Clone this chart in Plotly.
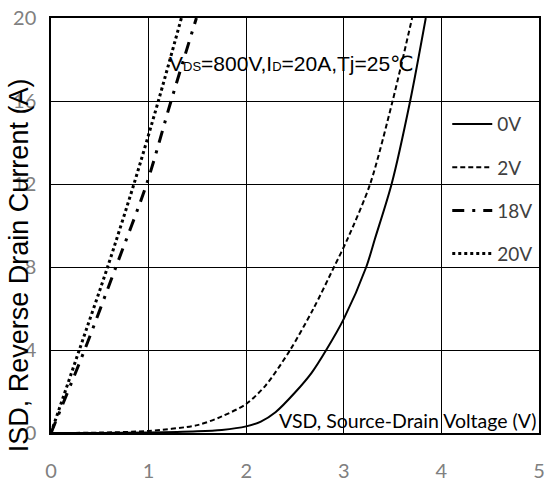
import plotly.graph_objects as go

# ---- data ----
V_0V = [0, 0.5, 1.0, 1.5, 1.75, 2.0, 2.15, 2.3, 2.5, 2.67, 2.82, 3.0, 3.23, 3.32, 3.49, 3.68, 3.84]
I_0V = [0, 0.0, 0.02, 0.08, 0.15, 0.32, 0.55, 1.0, 1.95, 2.9, 4.0, 5.5, 8, 9.37, 12, 16, 20]

V_2V = [0, 0.5, 1.0, 1.5, 1.75, 2.0, 2.2, 2.45, 2.69, 2.90, 3.04, 3.27, 3.50, 3.70]
I_2V = [0, 0.02, 0.1, 0.38, 0.8, 1.4, 2.3, 4.0, 6.0, 8, 9.37, 12, 16, 20]

V_18V = [0, 0.344, 0.665, 0.98, 1.23, 1.49]
I_18V = [0, 4, 8, 12, 16, 20]

V_20V = [0, 0.29, 0.58, 0.85, 1.10, 1.336]
I_20V = [0, 4, 8, 12, 16, 20]

series_names = ["0V", "2V", "18V", "20V"]
x_ticks = [0, 1, 2, 3, 4, 5]
y_ticks = [0, 4, 8, 12, 16, 20]

NARROW = "Lato, sans-serif"
ARIAL = "Liberation Sans, Arial, DejaVu Sans, sans-serif"

fig = go.Figure()
styles = [
    dict(width=2, dash="solid"),
    dict(width=2, dash="5px,3px"),
    dict(width=3, dash="12px,8px,3px,8px"),
    dict(width=3, dash="3px,3px"),
]
datasets = [(V_0V, I_0V), (V_2V, I_2V), (V_18V, I_18V), (V_20V, I_20V)]
for name, (xs, ys), st in zip(series_names, datasets, styles):
    fig.add_trace(go.Scatter(
        x=xs, y=ys, mode="lines", name=name, legendgroup=name,
        line=dict(color="black", shape="spline", smoothing=0.8, **st),
    ))

fig.update_layout(
    width=550, height=487,
    margin=dict(l=51, r=5, t=14, b=48),
    paper_bgcolor="white", plot_bgcolor="white",
    showlegend=True,
    legend=dict(
        x=0.812, y=0.79, xanchor="left", yanchor="top",
        bgcolor="rgba(0,0,0,0)", borderwidth=0, itemwidth=40,
        font=dict(family=NARROW, size=19, color="#404040"),
        tracegroupgap=15.5,
    ),
    xaxis=dict(
        range=[0, 5], tickvals=x_ticks, showgrid=True, gridcolor="black", gridwidth=1,
        showline=True, linecolor="black", linewidth=1.5, mirror=True,
        ticks="", zeroline=False, ticklabelstandoff=19,
        tickfont=dict(family=NARROW, size=20, color="#808080"),
    ),
    yaxis=dict(
        range=[0, 20], tickvals=y_ticks, showgrid=True, gridcolor="black", gridwidth=1,
        showline=True, linecolor="black", linewidth=1.5, mirror=True,
        ticks="", zeroline=False, ticklabelstandoff=9,
        tickfont=dict(family=NARROW, size=20, color="#808080"),
    ),
    annotations=[
        dict(text="ISD, Reverse Drain Current (A)", textangle=-90,
             xref="paper", yref="paper", x=-0.065, y=0.405,
             xanchor="center", yanchor="middle", showarrow=False,
             font=dict(family=ARIAL, size=27, color="black")),
        dict(text="VSD, Source-Drain Voltage (V)",
             xref="x", yref="y", x=4.99, y=0.6,
             xanchor="right", yanchor="middle", showarrow=False,
             font=dict(family=NARROW, size=19.5, color="black")),
        dict(text='V<span style="font-size:13px">DS</span>=800V,I<span style="font-size:13px">D</span>=20A,Tj=25℃',
             xref="x", yref="y", x=1.184, y=17.79,
             xanchor="left", yanchor="middle", showarrow=False,
             font=dict(family=ARIAL, size=21, color="black")),
    ],
)

fig.write_html("out.html")
